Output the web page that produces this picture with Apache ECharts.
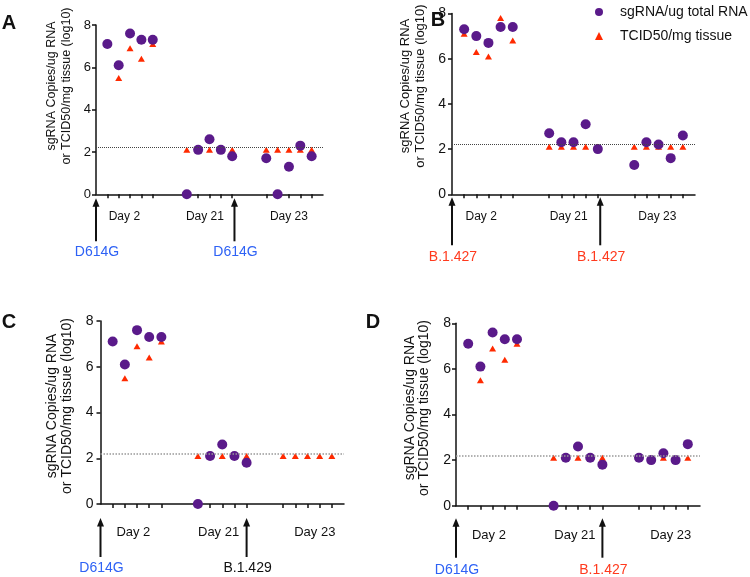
<!DOCTYPE html>
<html><head><meta charset="utf-8">
<script src="https://cdn.jsdelivr.net/npm/echarts@6/dist/echarts.min.js"></script>
<style>html,body{margin:0;padding:0;background:#fff}#c{width:750px;height:577px}</style>
</head><body><div id="c"></div>
<script>
// ---------- data ----------
const panelNames = ['A', 'B', 'C', 'D'];
const xPositions = [1, 2, 3, 4, 5, 8, 9, 10, 11, 12, 15, 16, 17, 18, 19];
const xTickValues = [1, 2, 3, 4, 5, 8, 9, 10, 11, 12, 15, 16, 17, 18, 19];
const yTickValues = [0, 2, 4, 6, 8];
const dayLabels = ['Day 2', 'Day 21', 'Day 23'];
const dayLabelPosA = [2.5, 9.6, 17.0];
const dayLabelPosB = [2.4, 9.6, 16.9];
const dayLabelPosC = [2.7, 9.7, 17.6];
const dayLabelPosD = [2.7, 9.75, 17.6];
const limitOfDetection = 2.2;

const sgA = [7.1, 6.1, 7.6, 7.3, 7.3, 0, 2.1, 2.6, 2.1, 1.8, 1.7, 0, 1.3, 2.3, 1.8];
const tcA = [7.1, 5.5, 6.9, 6.4, 7.1, 2.1, 2.1, 2.1, 2.1, 2.1, 2.1, 2.1, 2.1, 2.1, 2.1];
const sgB = [7.3, 7.0, 6.7, 7.4, 7.4, 2.7, 2.3, 2.3, 3.1, 2.0, 1.3, 2.3, 2.2, 1.6, 2.6];
const tcB = [7.1, 6.3, 6.1, 7.8, 6.8, 2.1, 2.1, 2.1, 2.1, 2.1, 2.1, 2.1, 2.1, 2.1, 2.1];
const sgC = [7.1, 6.1, 7.6, 7.3, 7.3, 0, 2.1, 2.6, 2.1, 1.8, null, null, null, null, null];
const tcC = [7.1, 5.5, 6.9, 6.4, 7.1, 2.1, 2.1, 2.1, 2.1, 2.1, 2.1, 2.1, 2.1, 2.1, 2.1];
const sgD = [7.1, 6.1, 7.6, 7.3, 7.3, 0, 2.1, 2.6, 2.1, 1.8, 2.1, 2.0, 2.3, 2.0, 2.7];
const tcD = [7.1, 5.5, 6.9, 6.4, 7.1, 2.1, 2.1, 2.1, 2.1, 2.1, 2.1, 2.1, 2.1, 2.1, 2.1];

const arrowPosA = [0, 12.2], arrowTextA = ['D614G', 'D614G'];
const arrowPosB = [0, 12.2], arrowTextB = ['B.1.427', 'B.1.427'];
const arrowPosC = [0, 12.0], arrowTextC = ['D614G', 'B.1.429'];
const arrowPosD = [0, 12.0], arrowTextD = ['D614G', 'B.1.427'];

const seriesNameSg = 'sgRNA/ug total RNA';
const seriesNameTc = 'TCID50/mg tissue';
const yTitle1 = 'sgRNA Copies/ug RNA';
const yTitle2 = 'or TCID50/mg tissue (log10)';

// ---------- styles / layout ----------
const FONT = '"Liberation Sans", Arial, Helvetica, sans-serif';
const PURPLE = '#5A1A8A';
const RED = '#FF2A00';
const BLUE = '#2E62F5';
const LABEL_RED = '#FF3A1E';
const variantColor = { 'D614G': BLUE, 'B.1.427': LABEL_RED, 'B.1.429': '#111' };

const panels = [
  { sg: sgA, tc: tcA, days: dayLabelPosA, arrows: arrowPosA, arrowText: arrowTextA,
    grid: { left: 96, top: 25, width: 227, height: 169.3 },
    tickFont: 13, dayFont: 12, dayMargin: 16, yMargin: 5, lodColor: '#444', lodWidth: 1,
    title: { x1: 52, x2: 67, y: 86, size: 12.5 }, letter: { x: 9, y: 23 },
    arrowTip: 4, arrowEnd: 47, arrowLabel: 57.5 },
  { sg: sgB, tc: tcB, days: dayLabelPosB, arrows: arrowPosB, arrowText: arrowTextB,
    grid: { left: 452, top: 13.5, width: 243, height: 180.8 },
    tickFont: 14, dayFont: 12, dayMargin: 16, yMargin: 6, lodColor: '#444', lodWidth: 1,
    title: { x1: 405, x2: 420, y: 86, size: 13 }, letter: { x: 438, y: 20 },
    arrowTip: 3, arrowEnd: 51, arrowLabel: 62.5 },
  { sg: sgC, tc: tcC, days: dayLabelPosC, arrows: arrowPosC, arrowText: arrowTextC,
    grid: { left: 100.5, top: 321, width: 243.5, height: 183 },
    tickFont: 14, dayFont: 13, dayMargin: 22, yMargin: 7, lodColor: '#999', lodWidth: 1.5,
    title: { x1: 52, x2: 67, y: 406, size: 14 }, letter: { x: 9, y: 322 },
    arrowTip: 14, arrowEnd: 53, arrowLabel: 64.5 },
  { sg: sgD, tc: tcD, days: dayLabelPosD, arrows: arrowPosD, arrowText: arrowTextD,
    grid: { left: 456, top: 323.3, width: 244, height: 182.4 },
    tickFont: 14, dayFont: 13, dayMargin: 23, yMargin: 5, lodColor: '#999', lodWidth: 1.5,
    title: { x1: 410, x2: 424, y: 408, size: 14 }, letter: { x: 373, y: 322 },
    arrowTip: 12.5, arrowEnd: 52, arrowLabel: 64.5 }
];

const chart = echarts.init(document.getElementById('c'), null, { renderer: 'canvas' });

const grids = [], xAxes = [], yAxes = [], series = [];
panels.forEach((p, i) => {
  grids.push(Object.assign({ containLabel: false }, p.grid));
  xAxes.push({
    type: 'value', gridIndex: i, min: 0, max: 20,
    axisLine: { show: true, onZero: false, lineStyle: { color: '#111', width: 1.5 } },
    axisTick: { show: true, customValues: xTickValues, length: 4, inside: false, lineStyle: { color: '#111', width: 1.5 } },
    axisLabel: {
      show: true, customValues: p.days, margin: p.dayMargin,
      fontSize: p.dayFont, fontFamily: FONT, color: '#111',
      formatter: v => { const k = p.days.indexOf(v); return k >= 0 ? dayLabels[k] : ''; }
    },
    splitLine: { show: false }
  });
  yAxes.push({
    type: 'value', gridIndex: i, min: 0, max: 8, interval: 2,
    axisLine: { show: true, onZero: false, lineStyle: { color: '#111', width: 1.5 } },
    axisTick: { show: true, length: 4, inside: false, lineStyle: { color: '#111', width: 1.5 } },
    axisLabel: { margin: p.yMargin, fontSize: p.tickFont, fontFamily: FONT, color: '#111' },
    splitLine: { show: false }
  });
  series.push({
    type: 'scatter', name: seriesNameTc, xAxisIndex: i, yAxisIndex: i,
    symbol: 'triangle', symbolSize: [7, 6], clip: false, z: 2,
    itemStyle: { color: RED, opacity: 1 },
    data: xPositions.map((x, k) => [x, p.tc[k]]).filter(d => d[1] != null)
  });
  series.push({
    type: 'scatter', name: seriesNameSg, xAxisIndex: i, yAxisIndex: i,
    symbol: 'circle', symbolSize: 10, clip: false, z: 3,
    itemStyle: { color: PURPLE, opacity: 1 },
    data: xPositions.map((x, k) => [x, p.sg[k]]).filter(d => d[1] != null),
    markLine: {
      silent: true, symbol: ['none', 'none'], label: { show: false }, animation: false,
      lineStyle: { type: 'dotted', color: p.lodColor, width: p.lodWidth },
      data: [{ yAxis: limitOfDetection }]
    }
  });
});

chart.setOption({
  animation: false,
  backgroundColor: '#fff',
  grid: grids, xAxis: xAxes, yAxis: yAxes, series: series,
  legend: {
    orient: 'vertical', left: 590, top: -1,
    itemWidth: 8, itemHeight: 8, itemGap: 8,
    textStyle: { fontSize: 14, fontFamily: FONT, color: '#111', lineHeight: 16, padding: [0, 0, 0, 12] },
    data: [{ name: seriesNameSg, icon: 'circle' }, { name: seriesNameTc, icon: 'triangle' }]
  }
});

// ---------- annotations (titles, letters, arrows) ----------
const graphics = [];
panels.forEach((p, i) => {
  const t = p.title;
  [[yTitle1, t.x1], [yTitle2, t.x2]].forEach(([txt, x]) => {
    graphics.push({ type: 'text', x: x, y: t.y, rotation: Math.PI / 2, silent: true,
      style: { text: txt, fontSize: t.size, fontFamily: FONT, fill: '#111', align: 'center', verticalAlign: 'middle' } });
  });
  graphics.push({ type: 'text', x: p.letter.x, y: p.letter.y, silent: true,
    style: { text: panelNames[i], fontSize: 20, fontWeight: 'bold', fontFamily: FONT, fill: '#111', align: 'center', verticalAlign: 'middle' } });
  p.arrows.forEach((ax, k) => {
    const pt = chart.convertToPixel({ gridIndex: i }, [ax, 0]);
    const x = pt[0], y0 = pt[1];
    const tip = y0 + p.arrowTip, end = y0 + p.arrowEnd;
    graphics.push({ type: 'line', silent: true,
      shape: { x1: x, y1: tip + 6, x2: x, y2: end }, style: { stroke: '#111', lineWidth: 2 } });
    graphics.push({ type: 'polygon', silent: true,
      shape: { points: [[x, tip], [x - 3.5, tip + 8.5], [x + 3.5, tip + 8.5]] }, style: { fill: '#111' } });
    const txt = p.arrowText[k];
    graphics.push({ type: 'text', x: x + 1, y: y0 + p.arrowLabel, silent: true,
      style: { text: txt, fontSize: 14, fontFamily: FONT, fill: variantColor[txt], align: 'center', verticalAlign: 'middle' } });
  });
});
chart.setOption({ graphic: graphics });
</script>
</body></html>
